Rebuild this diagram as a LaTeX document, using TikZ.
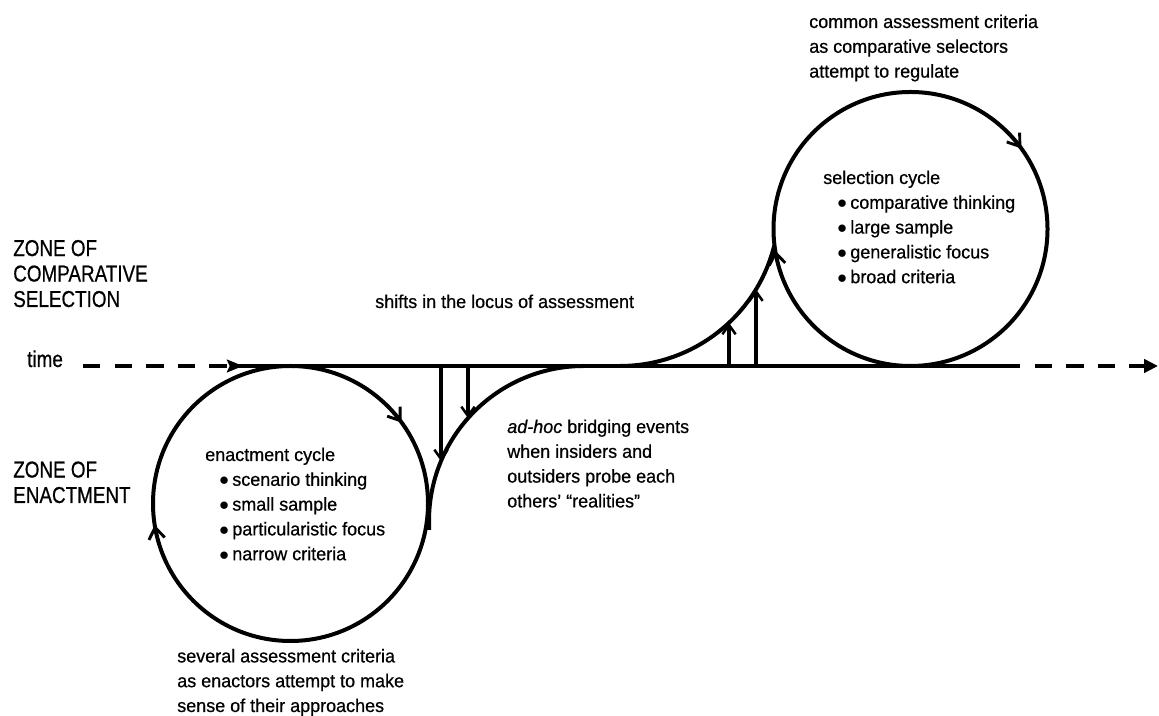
\documentclass[tikz,border=0pt]{standalone}
\usepackage{fontspec}
\setmainfont{Liberation Sans}[FakeStretch=0.97,FakeBold=0.6]
\newfontfamily\zonefont{Liberation Sans}[FakeStretch=0.82,FakeBold=0.6]
\usetikzlibrary{arrows.meta,decorations.markings}
\newcommand{\blt}{\hspace*{10.5pt}$\bullet$\hspace{2.6pt}}
\tikzset{
  cyctip/.tip   ={Straight Barb[length=8.5pt,width=12pt,line width=2.2pt]},
  cyc/.style    ={line width=3pt},
  cycarr/.style ={cyc,postaction={decorate},decoration={markings,
                   mark=at position 0.15 with {\arrow{cyctip}},
                   mark=at position 0.725 with {\arrow{cyctip}}}},
  bridge/.style ={line width=3pt},
  tline/.style  ={line width=3.4pt},
  tdash/.style  ={line width=3.4pt,dash pattern=on 13.1pt off 10.6pt},
  shiftarr/.style={line width=2.3pt,-{Straight Barb[length=7pt,width=10pt,line width=1.9pt]}},
  txt/.style    ={anchor=base west,align=left,inner sep=0pt,font=\fontsize{13.9}{18.6}\selectfont},
  zone/.style   ={anchor=base west,align=left,inner sep=0pt,font=\zonefont\fontsize{17.25}{19.1}\selectfont},
}
\begin{document}
\begin{tikzpicture}[x=0.75pt,y=0.75pt]
  \useasboundingbox (0,0) rectangle (1159,716);
  \coordinate (E) at (290.5,212.5);
  \coordinate (S) at (910.5,487);
  \coordinate (t0) at (83,350);
  \coordinate (t1) at (243,350);
  \coordinate (t2) at (236,350);
  \coordinate (t3) at (1003,350);
  \coordinate (t4) at (1158,350);

  \draw[tline] (t2) -- (t3);
  \draw[tdash,-{Stealth[length=12pt,width=9.5pt,inset=2pt]}] (t0) -- (t1);
  \draw[tdash,-{Triangle[length=10.5pt,width=10pt]}] (t3) -- (t4);

  \draw[cycarr] (E) ++(0,137.5) arc[start angle=90,end angle=-270,radius=137.5];
  \draw[cycarr] (S) ++(0,137) arc[start angle=90,end angle=-270,radius=137];

  \draw[bridge] (584,350) arc[start angle=90,end angle=180,radius=155] -- ++(0,-9);
  \draw[bridge] (620,350) arc[start angle=-90,end angle=-14,radius=159];

  \coordinate (d1) at (441,350); \coordinate (d1e) at (441,254.8);
  \coordinate (d2) at (468,350); \coordinate (d2e) at (468,297.8);
  \coordinate (u1) at (729,350); \coordinate (u1e) at (729,393.2);
  \coordinate (u2) at (756,350); \coordinate (u2e) at (756,426.6);
  \draw[shiftarr] (d1) -- (d1e);
  \draw[shiftarr] (d2) -- (d2e);
  \draw[shiftarr] (u1) -- (u1e);
  \draw[shiftarr] (u2) -- (u2e);

  \node[zone] (zsel) at (13,409) {ZONE OF\\COMPARATIVE\\SELECTION};
  \node[zone] (zenc) at (13,213) {ZONE OF\\ENACTMENT};
  \node[zone] (time) at (27,349) {time};
  \node[txt] (shifts) at (375,408) {shifts in the locus of assessment};
  \node[txt] (enc) at (205,155.8) {enactment cycle\\\blt scenario thinking\\\blt small sample\\\blt particularistic focus\\\blt narrow criteria};
  \node[txt] (sel) at (823,432.8) {selection cycle\\\blt comparative thinking\\\blt large sample\\\blt generalistic focus\\\blt broad criteria};
  \node[txt] (several) at (177,4) {several assessment criteria\\as enactors attempt to make\\sense of their approaches};
  \node[txt] (adhoc) at (507,208.6) {\textit{ad-hoc} bridging events\\when insiders and\\outsiders probe each\\others’ “realities”};
  \node[txt] (common) at (809,638.4) {common assessment criteria\\as comparative selectors\\attempt to regulate};
\end{tikzpicture}
\end{document}
